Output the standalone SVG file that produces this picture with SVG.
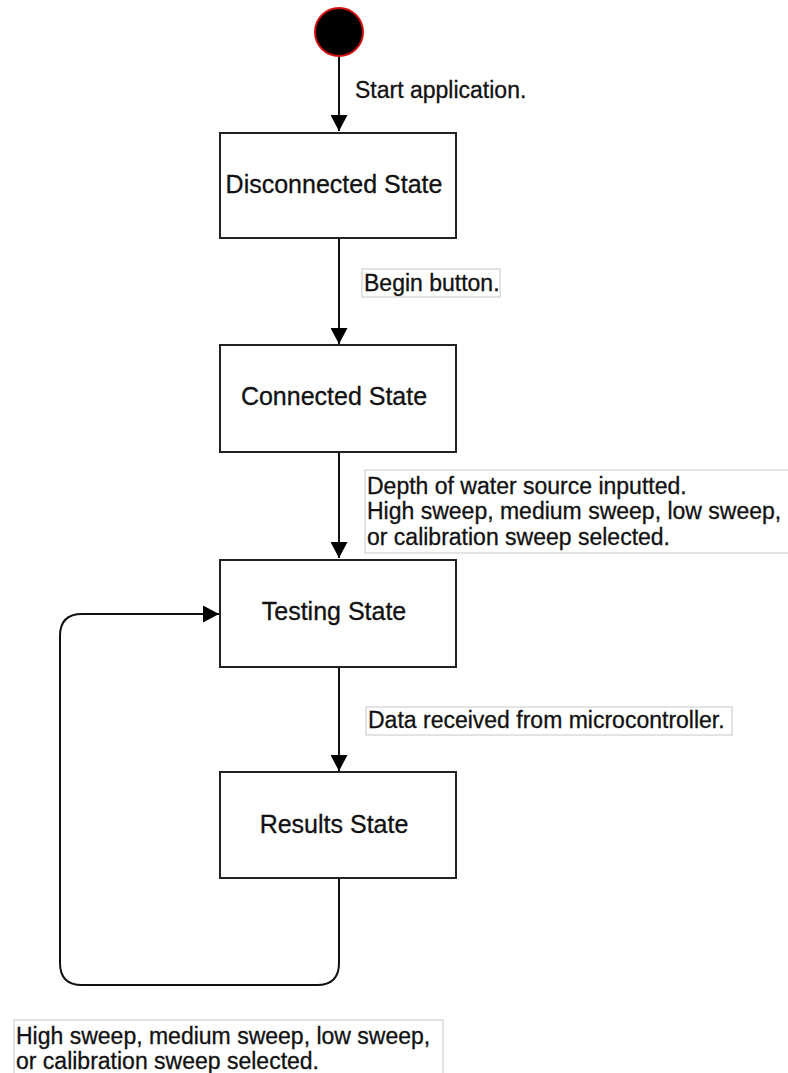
<svg xmlns="http://www.w3.org/2000/svg" width="788" height="1073" viewBox="0 0 788 1073">
<defs>
<style>
.node{fill:#fff;stroke:#222;stroke-width:2}
.ntext{font-family:"Liberation Sans",Arial,sans-serif;font-size:25px;fill:#111;stroke:#111;stroke-width:0.3;text-anchor:middle}
.lbl{font-family:"Liberation Sans",Arial,sans-serif;font-size:23px;fill:#111;stroke:#111;stroke-width:0.3}
.lbox{fill:#fff;stroke:#c8c8c8;stroke-width:1}
.edge{fill:none;stroke:#111;stroke-width:2}
</style>
<marker id="arr" viewBox="0 0 16 17" refX="16" refY="8.5" markerWidth="16" markerHeight="17" markerUnits="userSpaceOnUse" orient="auto">
<path d="M0,0 L16,8.5 L0,17 Z" fill="#000"/>
</marker>
</defs>
<rect width="788" height="1073" fill="#fff"/>
<g id="connectors">
<line class="edge" x1="339" y1="56" x2="339" y2="131" marker-end="url(#arr)"/>
<line class="edge" x1="339" y1="238" x2="339" y2="344" marker-end="url(#arr)"/>
<line class="edge" x1="339" y1="452" x2="339" y2="558" marker-end="url(#arr)"/>
<line class="edge" x1="339" y1="667" x2="339" y2="771" marker-end="url(#arr)"/>
<path class="edge" d="M339,878 L339,963 Q339,985 317,985 L82,985 Q60,985 60,963 L60,636 Q60,614 82,614 L219,614" marker-end="url(#arr)"/>
</g>
<g id="start">
<circle cx="339" cy="32" r="24" fill="#000" stroke="#d01010" stroke-width="2"/>
</g>
<g id="label-start">
<text class="lbl" x="355" y="98">Start application.</text>
</g>
<g id="disconnected">
<rect class="node" x="220" y="133" width="236" height="105"/>
<text class="ntext" x="334" y="193">Disconnected State</text>
</g>
<g id="label-begin">
<rect class="lbox" x="362" y="269" width="138" height="28"/>
<text class="lbl" x="364" y="291">Begin button.</text>
</g>
<g id="connected">
<rect class="node" x="220" y="345" width="236" height="107"/>
<text class="ntext" x="334" y="405">Connected State</text>
</g>
<g id="label-depth">
<rect class="lbox" x="365" y="470" width="430" height="83"/>
<text class="lbl" x="367" y="494">Depth of water source inputted.</text>
<text class="lbl" x="367" y="519">High sweep, medium sweep, low sweep,</text>
<text class="lbl" x="367" y="545">or calibration sweep selected.</text>
</g>
<g id="testing">
<rect class="node" x="220" y="560" width="236" height="107"/>
<text class="ntext" x="334" y="620">Testing State</text>
</g>
<g id="label-data">
<rect class="lbox" x="366" y="707" width="366" height="28"/>
<text class="lbl" x="368" y="728">Data received from microcontroller.</text>
</g>
<g id="results">
<rect class="node" x="220" y="772" width="236" height="106"/>
<text class="ntext" x="334" y="833">Results State</text>
</g>
<g id="label-loop">
<rect class="lbox" x="14" y="1020" width="429" height="60"/>
<text class="lbl" x="16" y="1044">High sweep, medium sweep, low sweep,</text>
<text class="lbl" x="16" y="1069">or calibration sweep selected.</text>
</g>
</svg>
